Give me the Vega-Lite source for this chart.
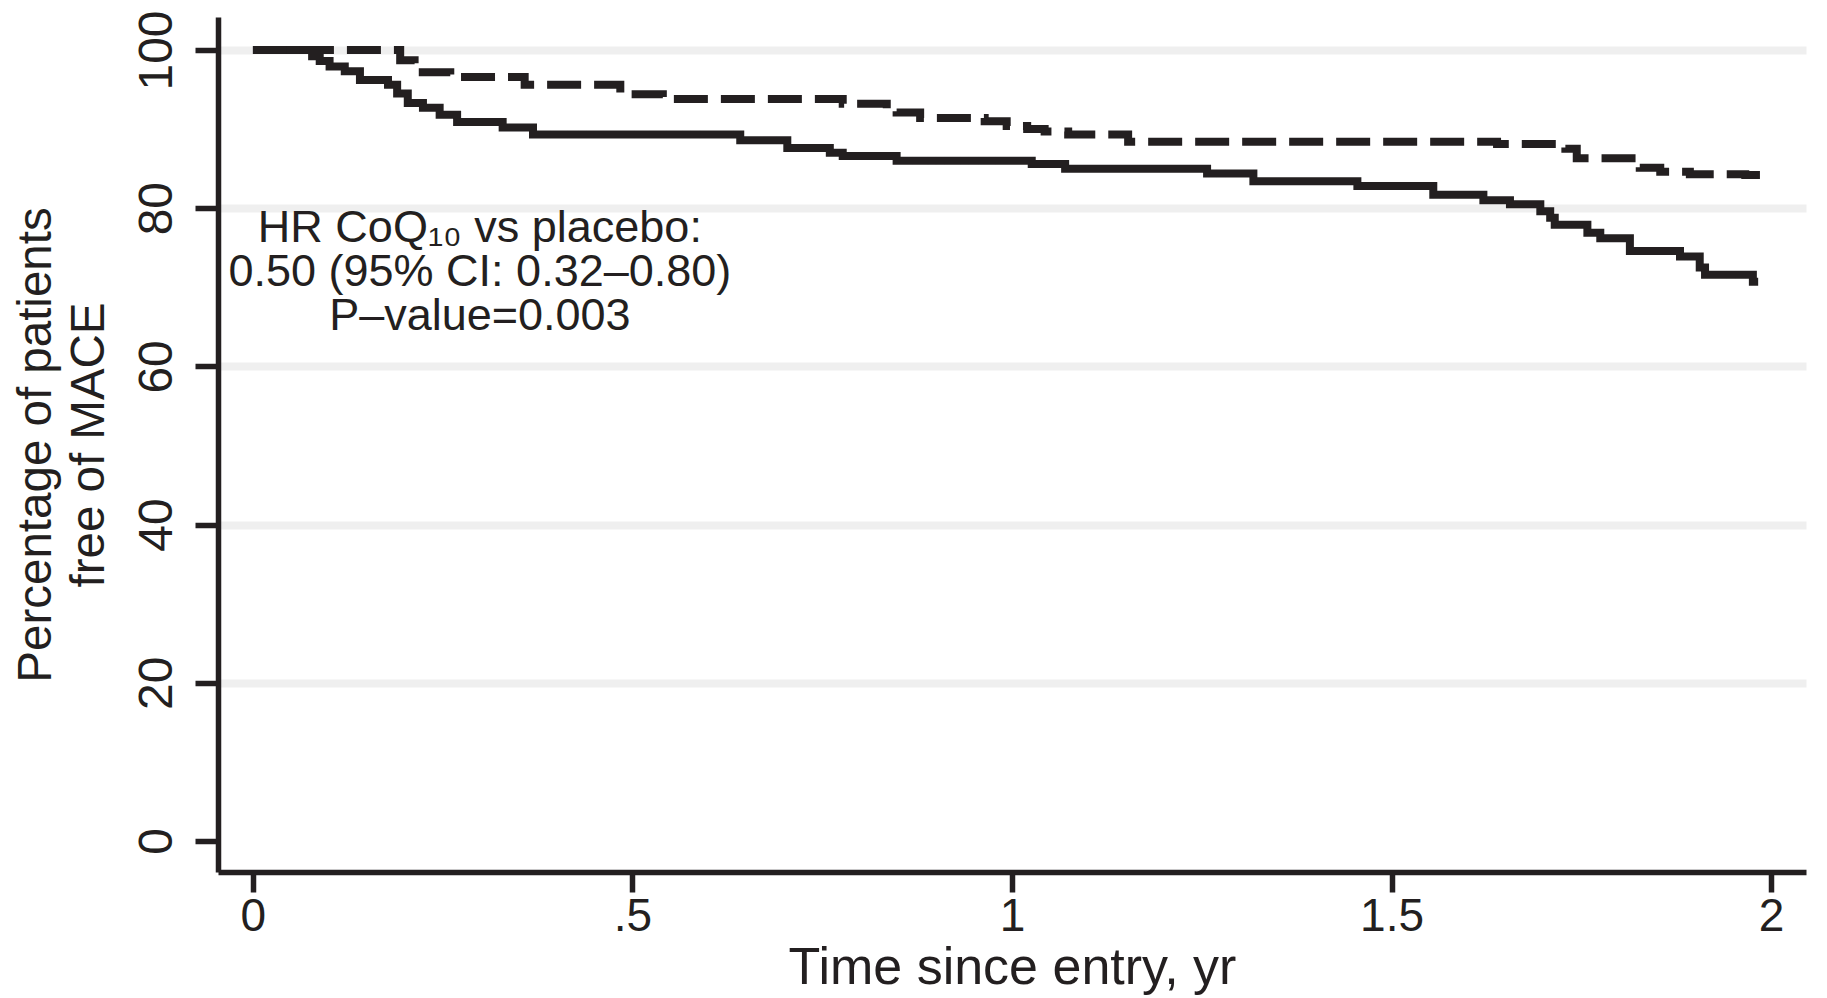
{
  "$schema": "https://vega.github.io/schema/vega-lite/v6.json",
  "width": 1588,
  "height": 855,
  "autosize": {"type": "none"},
  "padding": {"left": 218, "top": 17, "right": 21, "bottom": 126},
  "background": "white",
  "config": {"view": {"stroke": null}, "font": "Liberation Sans"},
  "layer": [
    {
      "data": {
        "values": [
          {"t": 0, "s": 100, "g": "Placebo"},
          {"t": 0.078, "s": 99.2, "g": "Placebo"},
          {"t": 0.088, "s": 98.6, "g": "Placebo"},
          {"t": 0.101, "s": 97.9, "g": "Placebo"},
          {"t": 0.121, "s": 97.3, "g": "Placebo"},
          {"t": 0.141, "s": 96.2, "g": "Placebo"},
          {"t": 0.178, "s": 95.6, "g": "Placebo"},
          {"t": 0.19, "s": 94.5, "g": "Placebo"},
          {"t": 0.204, "s": 93.3, "g": "Placebo"},
          {"t": 0.224, "s": 92.7, "g": "Placebo"},
          {"t": 0.246, "s": 91.8, "g": "Placebo"},
          {"t": 0.269, "s": 90.9, "g": "Placebo"},
          {"t": 0.329, "s": 90.2, "g": "Placebo"},
          {"t": 0.369, "s": 89.3, "g": "Placebo"},
          {"t": 0.642, "s": 88.6, "g": "Placebo"},
          {"t": 0.704, "s": 87.6, "g": "Placebo"},
          {"t": 0.76, "s": 87.0, "g": "Placebo"},
          {"t": 0.777, "s": 86.6, "g": "Placebo"},
          {"t": 0.848, "s": 86.0, "g": "Placebo"},
          {"t": 1.026, "s": 85.6, "g": "Placebo"},
          {"t": 1.07, "s": 85.0, "g": "Placebo"},
          {"t": 1.257, "s": 84.4, "g": "Placebo"},
          {"t": 1.318, "s": 83.4, "g": "Placebo"},
          {"t": 1.455, "s": 82.8, "g": "Placebo"},
          {"t": 1.555, "s": 81.7, "g": "Placebo"},
          {"t": 1.621, "s": 81.0, "g": "Placebo"},
          {"t": 1.656, "s": 80.5, "g": "Placebo"},
          {"t": 1.696, "s": 79.6, "g": "Placebo"},
          {"t": 1.709, "s": 78.8, "g": "Placebo"},
          {"t": 1.715, "s": 77.9, "g": "Placebo"},
          {"t": 1.758, "s": 76.9, "g": "Placebo"},
          {"t": 1.775, "s": 76.2, "g": "Placebo"},
          {"t": 1.814, "s": 74.6, "g": "Placebo"},
          {"t": 1.88, "s": 73.9, "g": "Placebo"},
          {"t": 1.906, "s": 72.5, "g": "Placebo"},
          {"t": 1.913, "s": 71.6, "g": "Placebo"},
          {"t": 1.976, "s": 70.7, "g": "Placebo"},
          {"t": 1.983, "s": 70.7, "g": "Placebo"},
          {"t": 0, "s": 100, "g": "CoQ10"},
          {"t": 0.194, "s": 98.7, "g": "CoQ10"},
          {"t": 0.213, "s": 97.2, "g": "CoQ10"},
          {"t": 0.26, "s": 96.6, "g": "CoQ10"},
          {"t": 0.358, "s": 95.6, "g": "CoQ10"},
          {"t": 0.484, "s": 94.4, "g": "CoQ10"},
          {"t": 0.54, "s": 93.8, "g": "CoQ10"},
          {"t": 0.777, "s": 93.2, "g": "CoQ10"},
          {"t": 0.835, "s": 92.4, "g": "CoQ10"},
          {"t": 0.848, "s": 92.1, "g": "CoQ10"},
          {"t": 0.879, "s": 91.4, "g": "CoQ10"},
          {"t": 0.964, "s": 91.0, "g": "CoQ10"},
          {"t": 0.993, "s": 90.4, "g": "CoQ10"},
          {"t": 1.02, "s": 90.0, "g": "CoQ10"},
          {"t": 1.043, "s": 89.7, "g": "CoQ10"},
          {"t": 1.074, "s": 89.3, "g": "CoQ10"},
          {"t": 1.153, "s": 88.4, "g": "CoQ10"},
          {"t": 1.639, "s": 88.1, "g": "CoQ10"},
          {"t": 1.729, "s": 87.5, "g": "CoQ10"},
          {"t": 1.744, "s": 86.3, "g": "CoQ10"},
          {"t": 1.827, "s": 85.1, "g": "CoQ10"},
          {"t": 1.854, "s": 84.6, "g": "CoQ10"},
          {"t": 1.893, "s": 84.3, "g": "CoQ10"},
          {"t": 1.966, "s": 84.2, "g": "CoQ10"},
          {"t": 1.999, "s": 84.2, "g": "CoQ10"}
        ]
      },
      "mark": {"type": "line", "interpolate": "step-after", "strokeWidth": 8, "color": "#231f20", "strokeCap": "butt"},
      "encoding": {
        "x": {
          "field": "t",
          "type": "quantitative",
          "scale": {"domain": [-0.046, 2.046], "nice": false, "zero": false},
          "axis": {
            "values": [0, 0.5, 1, 1.5, 2],
            "labelExpr": "datum.value === 0.5 ? '.5' : toString(datum.value)",
            "grid": false,
            "tickSize": 20,
            "tickWidth": 5.5,
            "tickColor": "#231f20",
            "domainColor": "#231f20",
            "domainWidth": 5.5,
            "labelFontSize": 46,
            "labelColor": "#231f20",
            "labelPadding": 2,
            "labelFlush": false,
            "labelOverlap": false,
            "title": "Time since entry, yr",
            "titleFontSize": 52,
            "titleFontWeight": "normal",
            "titleColor": "#231f20",
            "titlePadding": 3
          }
        },
        "y": {
          "field": "s",
          "type": "quantitative",
          "scale": {"domain": [-3.92, 104.17], "nice": false, "zero": false},
          "axis": {
            "values": [0, 20, 40, 60, 80, 100],
            "grid": true,
            "gridColor": "#efefef",
            "gridWidth": 8,
            "gridOpacity": {"condition": {"test": "datum.value === 0", "value": 0}, "value": 1},
            "labelAngle": -90,
            "labelAlign": "center",
            "labelBaseline": "alphabetic",
            "labelPadding": 24,
            "tickSize": 23,
            "tickWidth": 5.5,
            "tickColor": "#231f20",
            "domainColor": "#231f20",
            "domainWidth": 5.5,
            "labelFontSize": 48,
            "labelColor": "#231f20",
            "labelFlush": false,
            "labelOverlap": false,
            "title": ["Percentage of patients", "free of MACE"],
            "titleFontSize": 47.5,
            "titleFontWeight": "normal",
            "titleColor": "#231f20",
            "titleLineHeight": 53,
            "titlePadding": 20
          }
        },
        "strokeDash": {
          "field": "g",
          "type": "nominal",
          "scale": {"domain": ["Placebo", "CoQ10"], "range": [[1, 0], [34, 13]]},
          "legend": null
        }
      }
    },
    {
      "data": {"values": [{}]},
      "mark": {
        "type": "text",
        "text": ["HR CoQ₁₀ vs placebo:", "0.50 (95% CI: 0.32–0.80)", "P–value=0.003"],
        "align": "center",
        "baseline": "alphabetic",
        "lineHeight": 44,
        "fontSize": 45,
        "color": "#231f20"
      },
      "encoding": {
        "x": {"datum": 0.299, "type": "quantitative"},
        "y": {"datum": 75.7, "type": "quantitative"}
      }
    }
  ]
}
